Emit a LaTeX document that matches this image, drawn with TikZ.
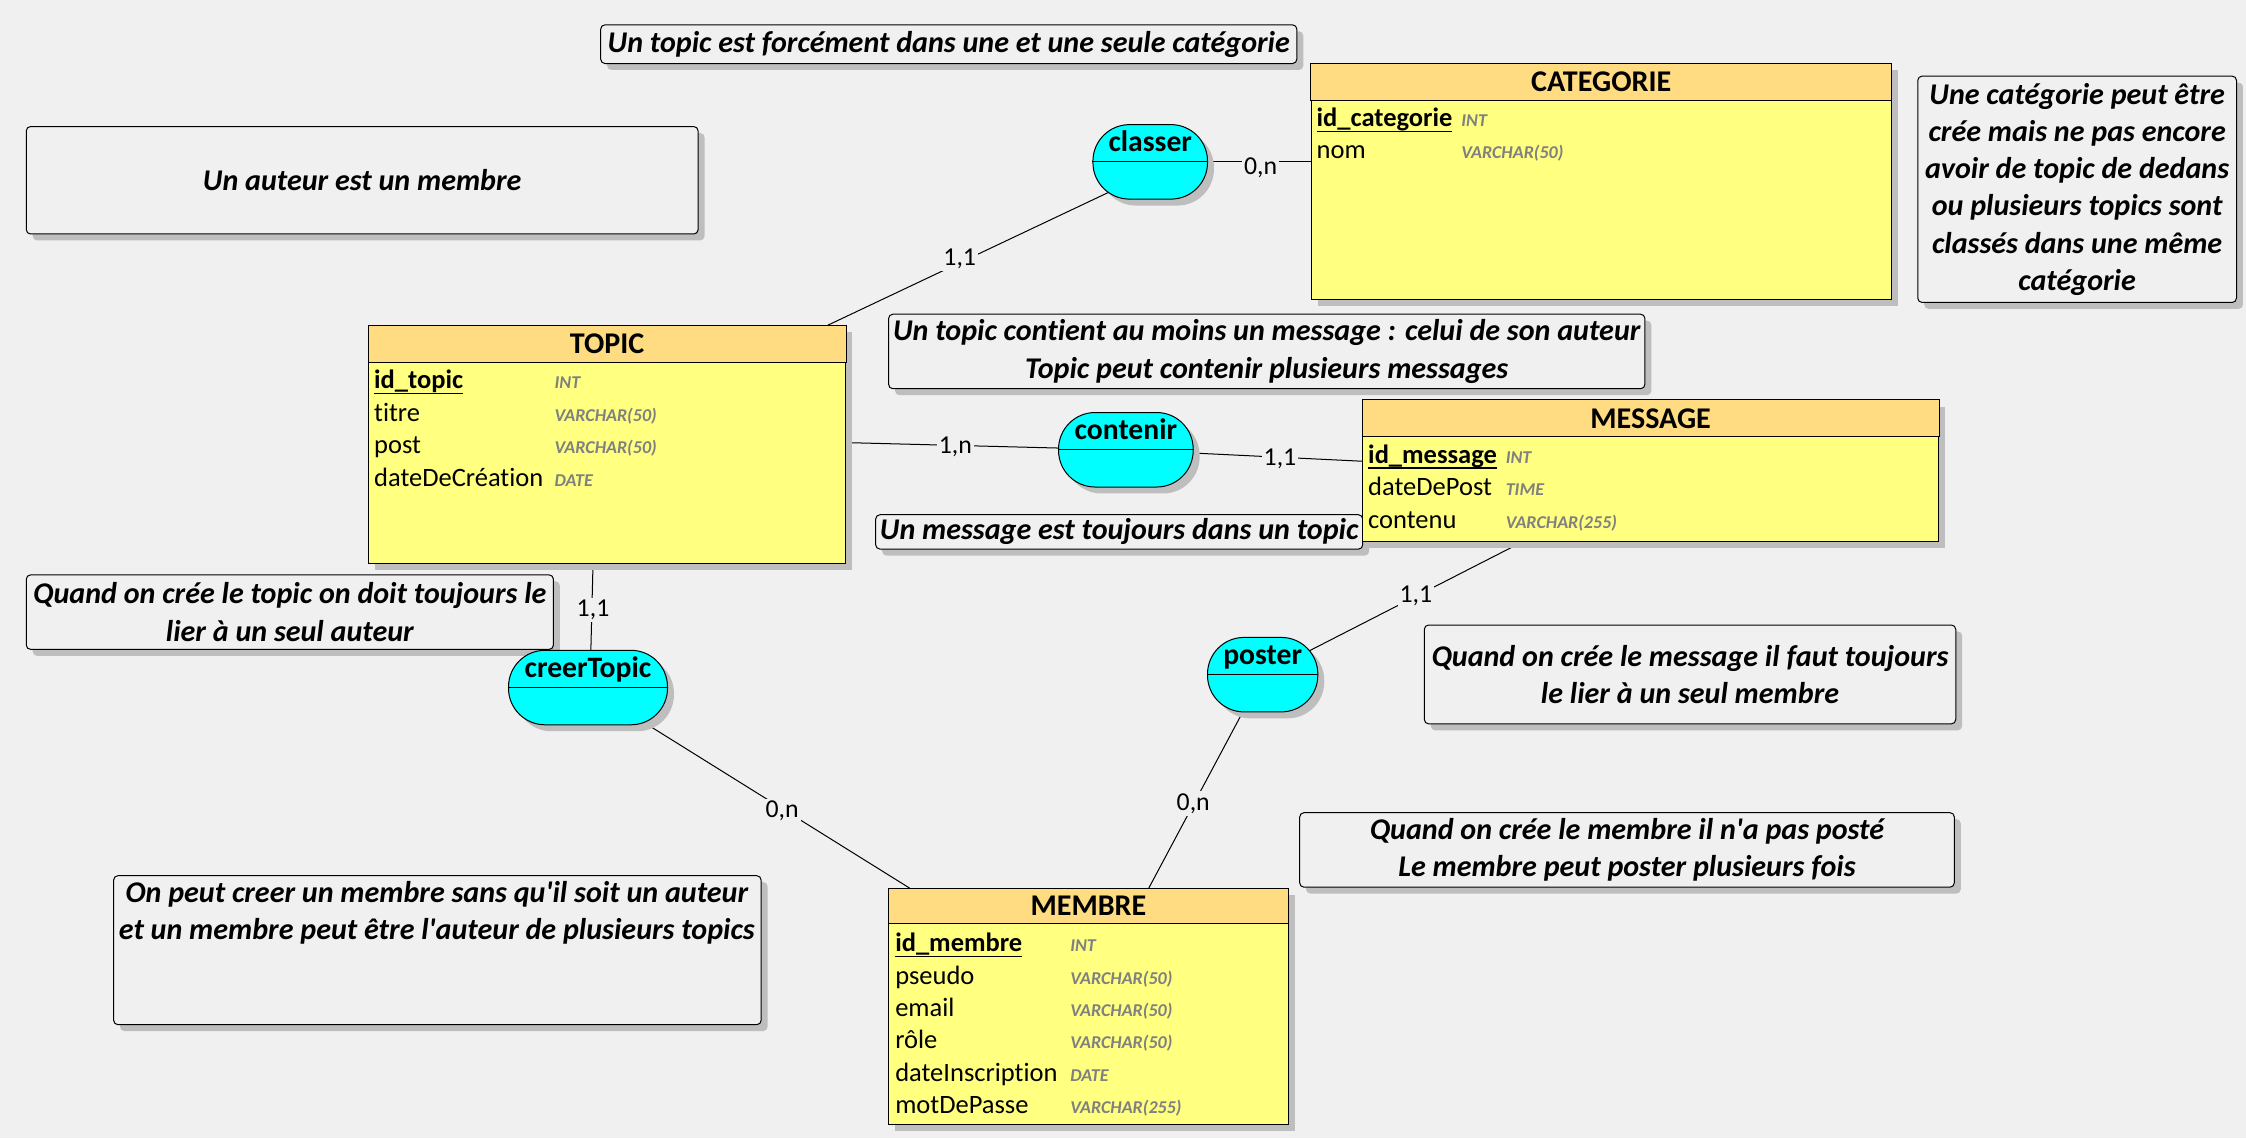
\documentclass[tikz,border=0pt]{standalone}
\usepackage{fontspec}
\setmainfont{Carlito}[Ligatures={TeXOff,CommonOff}]
\usetikzlibrary{calc,shadows}
\pgfdeclarelayer{back}
\pgfdeclarelayer{lines}
\pgfsetlayers{back,lines,main}
\definecolor{bgc}{RGB}{240,240,240}
\definecolor{bodyc}{RGB}{255,255,128}
\definecolor{headc}{RGB}{255,220,130}
\definecolor{capc}{RGB}{0,255,255}
\definecolor{shc}{RGB}{190,190,190}
\definecolor{typec}{RGB}{128,128,128}
\newcommand\pkul[1]{\setbox0=\hbox{#1}\rlap{\rule[-3.9pt]{\wd0}{1.2pt}}\box0}
\begin{document}
\begin{tikzpicture}[x=1pt,y=-1pt,
 shd/.style={drop shadow={shadow xshift=4.5pt,shadow yshift=-4.5pt,fill=shc,opacity=1}},
 ent/.style={draw=black,fill=bodyc,shd,line width=0.7pt,inner sep=0pt,anchor=north west},
 head/.style={draw=black,fill=headc,line width=0.7pt},
 etitle/.style={font=\fontsize{21}{25}\selectfont\bfseries,inner sep=0pt},
 attr/.style={font=\fontsize{18.5}{22}\selectfont,anchor=base west,inner sep=0pt},
 pk/.style={attr,font=\fontsize{18.5}{22}\selectfont\bfseries},
 typ/.style={font=\fontsize{12.6}{15}\selectfont\bfseries\itshape,text=typec,anchor=base west,inner sep=0pt},
 note/.style={draw=black,fill=bgc,rounded corners=3pt,shd,line width=0.7pt,inner sep=0pt,anchor=north west,align=center,font=\fontsize{21}{26}\selectfont\bfseries\itshape},
 notetext/.style={inner sep=0pt,align=center,font=\fontsize{21}{26}\selectfont\bfseries\itshape},
 assoc/.style={draw=black,fill=capc,shd,line width=0.7pt,inner sep=0pt,minimum height=52pt,rounded corners=25.5pt},
 atitle/.style={font=\fontsize{20.7}{24}\selectfont\bfseries,anchor=base,inner sep=0pt},
 card/.style={font=\fontsize{18}{22}\selectfont,fill=bgc,inner sep=1.5pt},
 link/.style={draw=black,line width=0.7pt}]
\begin{pgfonlayer}{back}
\fill[bgc] (0,0) rectangle (1568,794.5);
\end{pgfonlayer}
\useasboundingbox (0,0) rectangle (1568,794.5);

% notes
\node[note,minimum width=486pt,minimum height=27pt] (n1) at (419,17) {Un topic est forcément dans une et une seule catégorie};
\node[note,minimum width=469pt,minimum height=75pt] (n2) at (18,88) {Un auteur est un membre};
\node[note,minimum width=222.5pt,minimum height=158pt] (n3) at (1338.5,52.8) {Une catégorie peut être\\crée mais ne pas encore\\avoir de topic de dedans\\ou plusieurs topics sont\\classés dans une même\\catégorie};
\node[note,minimum width=528pt,minimum height=52pt] (n4) at (620,219) {Un topic contient au moins un message : celui de son auteur\\Topic peut contenir plusieurs messages};
\node[note,minimum width=340pt,minimum height=24pt] (n5) at (611,359) {Un message est toujours dans un topic};
\node[note,minimum width=368pt,minimum height=52pt] (n6) at (18,401) {Quand on crée le topic on doit toujours le\\lier à un seul auteur};
\node[note,minimum width=371pt,minimum height=69pt] (n7) at (994,436) {Quand on crée le message il faut toujours\\le lier à un seul membre};
\node[note,minimum width=457pt,minimum height=52pt] (n8) at (907,567) {Quand on crée le membre il n'a pas posté\\Le membre peut poster plusieurs fois};
\node[note,minimum width=452pt,minimum height=104pt] (n9) at (79,611) {};
\node[notetext] (n9t) at (305,637) {On peut creer un membre sans qu'il soit un auteur\\et un membre peut être l'auteur de plusieurs topics};

% CATEGORIE
\node[ent,minimum width=405pt,minimum height=165pt] (cat) at (915,44) {};
\draw[head] (cat.north west) rectangle ($(cat.north east)+(0,26)$);
\node[etitle] (cat-t) at ($(cat.north)+(0,13)$) {CATEGORIE};
\node[pk] (cat-a1) at (919,88.5) {\pkul{id\_categorie}};
\node[typ] (cat-y1) at (1020,88.5) {INT};
\node[attr] (cat-a2) at (919,111) {nom};
\node[typ] (cat-y2) at (1020,111) {VARCHAR(50)};

% TOPIC
\node[ent,minimum width=333pt,minimum height=166pt] (topic) at (257,227) {};
\draw[head] (topic.north west) rectangle ($(topic.north east)+(0,26)$);
\node[etitle] (topic-t) at ($(topic.north)+(0,13)$) {TOPIC};
\node[pk] (topic-a1) at (261,271.5) {\pkul{id\_topic}};
\node[typ] (topic-y1) at (387,271.5) {INT};
\node[attr] (topic-a2) at (261,294.2) {titre};
\node[typ] (topic-y2) at (387,294.2) {VARCHAR(50)};
\node[attr] (topic-a3) at (261,316.9) {post};
\node[typ] (topic-y3) at (387,316.9) {VARCHAR(50)};
\node[attr] (topic-a4) at (261,339.6) {dateDeCréation};
\node[typ] (topic-y4) at (387,339.6) {DATE};

% MESSAGE
\node[ent,minimum width=402pt,minimum height=99pt] (msg) at (951,279) {};
\draw[head] (msg.north west) rectangle ($(msg.north east)+(0,26)$);
\node[etitle] (msg-t) at ($(msg.north)+(0,13)$) {MESSAGE};
\node[pk] (msg-a1) at (955,323.5) {\pkul{id\_message}};
\node[typ] (msg-y1) at (1051,323.5) {INT};
\node[attr] (msg-a2) at (955,346.2) {dateDePost};
\node[typ] (msg-y2) at (1051,346.2) {TIME};
\node[attr] (msg-a3) at (955,368.9) {contenu};
\node[typ] (msg-y3) at (1051,368.9) {VARCHAR(255)};

% MEMBRE
\node[ent,minimum width=279pt,minimum height=165pt] (membre) at (620,620) {};
\draw[head] (membre.north west) rectangle ($(membre.north east)+(0,25)$);
\node[etitle] (membre-t) at ($(membre.north)+(0,12.5)$) {MEMBRE};
\node[pk] (membre-a1) at (624.8,664.4) {\pkul{id\_membre}};
\node[typ] (membre-y1) at (747,664.4) {INT};
\node[attr] (membre-a2) at (624.8,687) {pseudo};
\node[typ] (membre-y2) at (747,687) {VARCHAR(50)};
\node[attr] (membre-a3) at (624.8,709.6) {email};
\node[typ] (membre-y3) at (747,709.6) {VARCHAR(50)};
\node[attr] (membre-a4) at (624.8,732.2) {rôle};
\node[typ] (membre-y4) at (747,732.2) {VARCHAR(50)};
\node[attr] (membre-a5) at (624.8,754.8) {dateInscription};
\node[typ] (membre-y5) at (747,754.8) {DATE};
\node[attr] (membre-a6) at (624.8,777.4) {motDePasse};
\node[typ] (membre-y6) at (747,777.4) {VARCHAR(255)};

% associations
\node[assoc,minimum width=80pt] (classer) at (803,113) {};
\draw[link] (classer.west) -- (classer.east);
\node[atitle] (classer-t) at (803,106) {classer};
\node[assoc,minimum width=94pt] (contenir) at (786,314) {};
\draw[link] (contenir.west) -- (contenir.east);
\node[atitle] (contenir-t) at (786,307) {contenir};
\node[assoc,minimum width=111pt] (creer) at (410.5,480) {};
\draw[link] (creer.west) -- (creer.east);
\node[atitle] (creer-t) at (410.5,473) {creerTopic};
\node[assoc,minimum width=77pt] (poster) at (881.5,471) {};
\draw[link] (poster.west) -- (poster.east);
\node[atitle] (poster-t) at (881.5,464) {poster};

% connectors
\begin{pgfonlayer}{lines}
\draw[link] (classer.center) -- (classer.center -| cat.west);
\draw[link] ($(classer.center)+(-20,17)$) -- ($(topic.north west)+(321,0)$);
\draw[link] ($(topic.north east)+(0,82)$) -- (contenir.center);
\draw[link] (contenir.center) -- ($(msg.north west)+(0,43)$);
\draw[link] ($(topic.south west)+(157,0)$) -- ($(creer.north)+(2,0)$);
\draw[link] (creer.center) -- ($(membre.north west)+(15,0)$);
\draw[link] ($(msg.south west)+(111,0)$) -- (poster.center);
\draw[link] (poster.center) -- ($(membre.north west)+(182,0)$);
\end{pgfonlayer}

% cardinalities
\node[card] (c1) at (880,117) {0,n};
\node[card] (c2) at (670,181) {1,1};
\node[card] (c3) at (667,312) {1,n};
\node[card] (c4) at (893.6,320.6) {1,1};
\node[card] (c5) at (414,426) {1,1};
\node[card] (c6) at (546,566) {0,n};
\node[card] (c7) at (988.5,416) {1,1};
\node[card] (c8) at (833,561) {0,n};
\end{tikzpicture}
\end{document}
